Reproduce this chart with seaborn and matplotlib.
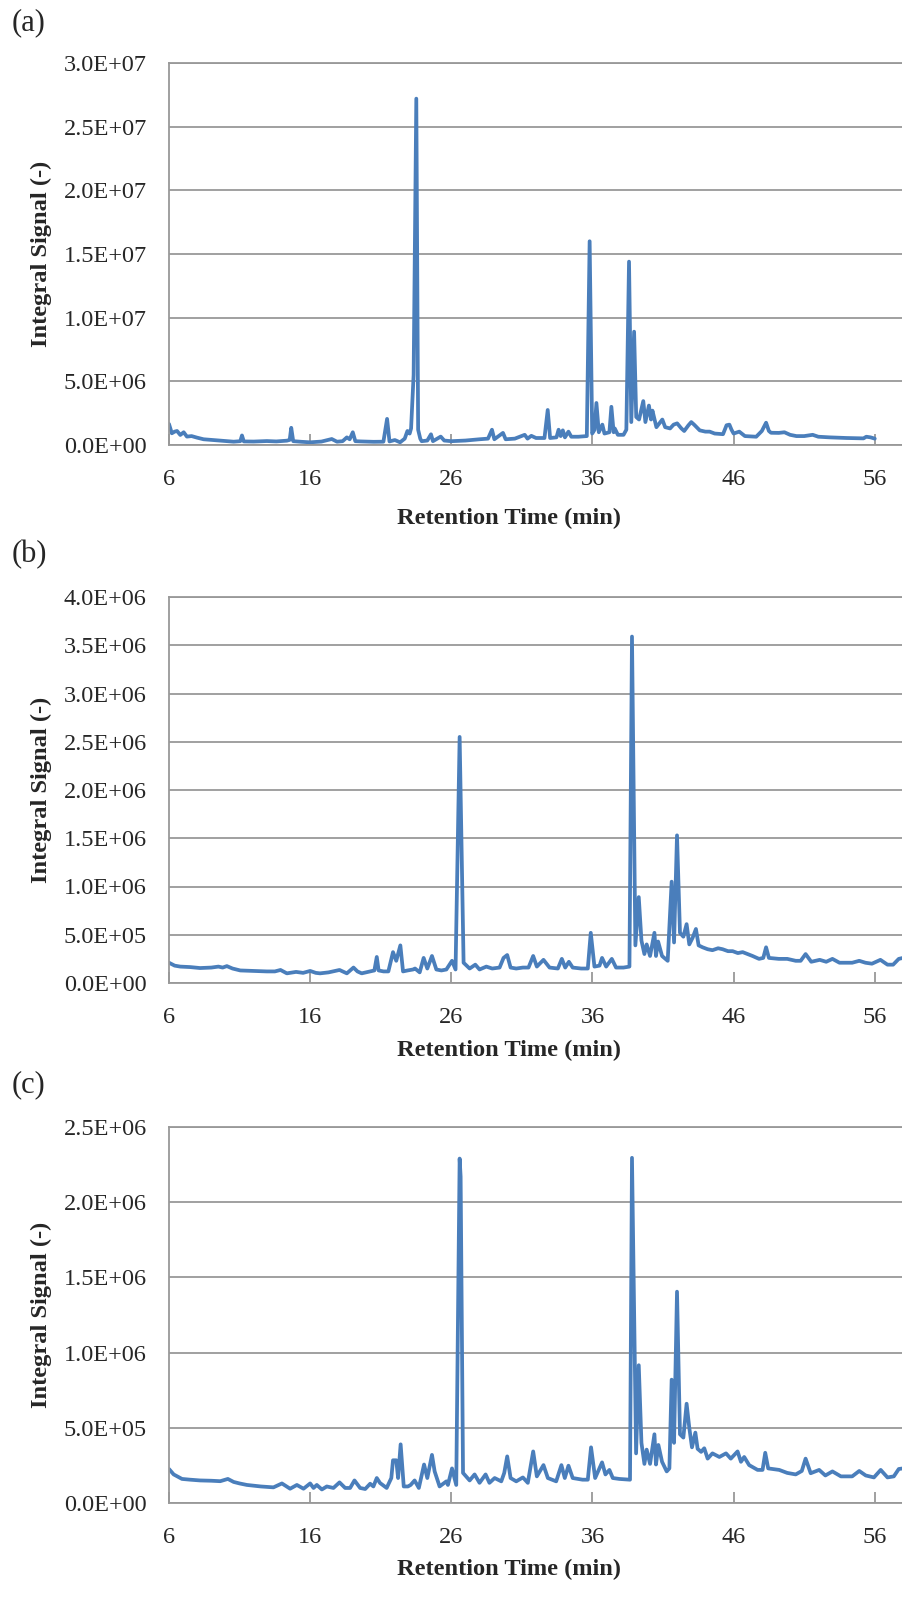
import numpy as np
import pandas as pd
import matplotlib
matplotlib.use("Agg")
import matplotlib.pyplot as plt
from matplotlib.ticker import FuncFormatter
import seaborn as sns

# ---- chromatogram (a): retention time (min) and signal (millions) ----
a_time = [6.0, 6.2, 6.4, 6.57, 6.8, 7.04, 7.27, 7.6, 7.98, 8.45, 9.0, 9.63, 10.1, 10.58,
          11.05, 11.17, 11.3, 12.0, 12.93, 13.6, 14.35, 14.55, 14.66, 14.8, 15.4, 16.0,
          16.8, 17.53, 17.9, 18.3, 18.6, 18.8, 19.02, 19.2, 19.6, 20.5, 21.19, 21.45,
          21.62, 22.0, 22.37, 22.7, 22.89, 23.05, 23.15, 23.33, 23.52, 23.65, 23.8, 23.9,
          24.3, 24.56, 24.7, 25.25, 25.5, 26.0, 27.0, 28.0, 28.6, 28.88, 29.05, 29.66,
          29.85, 30.5, 31.2, 31.4, 31.67, 32.0, 32.6, 32.83, 33.0, 33.45, 33.6, 33.75,
          33.9, 34.05, 34.3, 34.5, 35.0, 35.6, 35.8, 35.98, 36.15, 36.28, 36.45, 36.7,
          36.85, 37.2, 37.34, 37.5, 37.58, 37.8, 38.2, 38.4, 38.59, 38.75, 38.95, 39.1,
          39.3, 39.6, 39.75, 40.0, 40.15, 40.25, 40.53, 40.95, 41.15, 41.5, 41.75, 42.0,
          42.3, 42.5, 42.8, 43.0, 43.2, 43.6, 44.0, 44.3, 44.66, 45.25, 45.5, 45.7,
          45.85, 46.0, 46.4, 46.8, 47.6, 48.0, 48.3, 48.5, 48.65, 49.2, 49.6, 50.0,
          50.45, 51.0, 51.6, 52.0, 52.8, 54.0, 55.2, 55.4, 55.7, 56.0]
a_signal = [1.65, 0.92, 1.05, 1.1, 0.79, 1.0, 0.66, 0.7, 0.58, 0.45, 0.4, 0.34, 0.3, 0.26,
            0.3, 0.75, 0.28, 0.27, 0.31, 0.28, 0.34, 0.4, 1.35, 0.3, 0.25, 0.21,
            0.27, 0.47, 0.26, 0.3, 0.6, 0.45, 1.0, 0.3, 0.28, 0.25, 0.26, 2.05,
            0.28, 0.39, 0.21, 0.5, 1.1, 0.9, 1.3, 5.5, 27.2, 1.2, 0.5, 0.3,
            0.35, 0.84, 0.3, 0.66, 0.35, 0.3, 0.35, 0.45, 0.5, 1.2, 0.45, 0.95,
            0.45, 0.5, 0.8, 0.5, 0.72, 0.55, 0.55, 2.75, 0.55, 0.6, 1.2, 0.7,
            1.15, 0.6, 1.05, 0.65, 0.65, 0.7, 16.0, 0.9, 1.2, 3.3, 1.0, 1.6,
            0.9, 1.0, 3.0, 1.0, 1.3, 0.8, 0.8, 1.2, 14.4, 1.8, 8.9, 2.2,
            2.0, 3.45, 1.8, 3.1, 2.0, 2.7, 1.4, 2.0, 1.4, 1.3, 1.6, 1.7,
            1.3, 1.1, 1.55, 1.8, 1.6, 1.15, 1.05, 1.05, 0.9, 0.85, 1.55, 1.6,
            1.2, 0.9, 1.05, 0.7, 0.65, 1.1, 1.75, 1.1, 0.96, 0.95, 1.0, 0.8,
            0.7, 0.7, 0.8, 0.65, 0.6, 0.55, 0.52, 0.65, 0.6, 0.5]

# ---- chromatogram (b) ----
b_time = [6.0, 6.4, 6.8, 7.5, 8.2, 9.0, 9.5, 9.8, 10.1, 10.5, 11.05, 12.0, 12.93, 13.5,
          13.9, 14.35, 15.0, 15.5, 16.0, 16.4, 16.7, 17.3, 18.08, 18.6, 19.07, 19.35,
          19.65, 20.25, 20.55, 20.72, 20.85, 21.2, 21.54, 21.87, 22.1, 22.39, 22.58,
          22.9, 23.29, 23.43, 23.76, 24.04, 24.3, 24.63, 24.94, 25.3, 25.65, 26.05,
          26.3, 26.59, 26.87, 27.3, 27.7, 28.0, 28.48, 28.9, 29.42, 29.7, 29.96, 30.2,
          30.6, 31.07, 31.47, 31.8, 32.06, 32.53, 32.96, 33.55, 33.83, 34.07, 34.33,
          34.6, 35.2, 35.67, 35.88, 36.14, 36.5, 36.68, 36.97, 37.37, 37.67, 38.2,
          38.62, 38.8, 39.04, 39.28, 39.47, 39.68, 39.84, 40.08, 40.39, 40.5, 40.65,
          40.93, 41.33, 41.61, 41.78, 41.99, 42.2, 42.44, 42.67, 42.86, 43.1, 43.33,
          43.52, 43.8, 44.16, 44.5, 44.9, 45.22, 45.6, 45.93, 46.3, 46.64, 47.0, 47.34,
          47.8, 48.1, 48.3, 48.5, 49.2, 49.8, 50.4, 50.75, 51.1, 51.5, 52.1, 52.56,
          53.0, 53.5, 54.4, 54.9, 55.34, 55.8, 56.4, 56.9, 57.3, 57.7, 58.0]
b_signal = [0.21, 0.18, 0.17, 0.165, 0.155, 0.16, 0.17, 0.16, 0.175, 0.15, 0.13, 0.125,
            0.12, 0.12, 0.135, 0.1, 0.115, 0.105, 0.125, 0.105, 0.1, 0.11, 0.135, 0.1,
            0.16, 0.12, 0.1, 0.12, 0.13, 0.27, 0.13, 0.12, 0.12, 0.32, 0.23, 0.39, 0.12,
            0.13, 0.14, 0.15, 0.11, 0.26, 0.15, 0.28, 0.14, 0.13, 0.14, 0.23,
            0.14, 2.55, 0.21, 0.15, 0.19, 0.14, 0.17, 0.15, 0.16, 0.26, 0.29, 0.16,
            0.15, 0.16, 0.16, 0.28, 0.17, 0.24, 0.16, 0.15, 0.25, 0.16, 0.22,
            0.16, 0.15, 0.15, 0.52, 0.17, 0.18, 0.26, 0.17, 0.25, 0.16, 0.16,
            0.17, 3.59, 0.39, 0.89, 0.44, 0.3, 0.4, 0.28, 0.52, 0.28, 0.43,
            0.28, 0.23, 1.05, 0.42, 1.53, 0.52, 0.48, 0.61, 0.4, 0.47, 0.56,
            0.39, 0.37, 0.35, 0.34, 0.36, 0.35, 0.33, 0.33, 0.31, 0.32, 0.3, 0.28,
            0.25, 0.26, 0.37, 0.26, 0.25, 0.25, 0.23, 0.23, 0.3, 0.22, 0.24, 0.22,
            0.25, 0.21, 0.21, 0.23, 0.21, 0.2, 0.24, 0.19, 0.19, 0.25, 0.26]

# ---- chromatogram (c) ----
c_time = [6.0, 6.33, 6.92, 7.5, 8.2, 9.0, 9.63, 10.17, 10.58, 11.0, 11.52, 12.5, 13.4,
          14.0, 14.58, 15.06, 15.53, 16.0, 16.24, 16.47, 16.83, 17.18, 17.65, 18.08,
          18.48, 18.83, 19.14, 19.54, 19.9, 20.25, 20.48, 20.72, 20.95, 21.42, 21.75,
          21.87, 22.1, 22.23, 22.41, 22.63, 22.93, 23.12, 23.4, 23.7, 24.07, 24.3,
          24.63, 24.82, 25.17, 25.65, 25.76, 26.05, 26.35, 26.59, 26.66, 26.83, 27.3,
          27.65, 28.0, 28.43, 28.7, 29.07, 29.54, 29.75, 29.96, 30.2, 30.6, 31.07,
          31.42, 31.8, 32.06, 32.53, 32.84, 33.43, 33.8, 34.04, 34.3, 34.6, 35.3,
          35.67, 35.9, 36.19, 36.68, 36.92, 37.2, 37.44, 37.9, 38.66, 38.8, 39.09,
          39.28, 39.47, 39.68, 39.84, 40.08, 40.39, 40.5, 40.67, 40.93, 41.26, 41.45,
          41.61, 41.78, 41.99, 42.2, 42.44, 42.67, 42.86, 43.05, 43.29, 43.45, 43.7,
          43.92, 44.16, 44.5, 44.99, 45.46, 45.8, 46.28, 46.52, 46.75, 47.1, 47.7,
          48.05, 48.24, 48.45, 49.23, 49.8, 50.4, 50.83, 51.1, 51.46, 52.06, 52.5,
          53.0, 53.6, 54.4, 54.9, 55.36, 55.94, 56.42, 56.9, 57.35, 57.7, 58.0]
c_signal = [0.226, 0.19, 0.16, 0.155, 0.15, 0.148, 0.145, 0.16, 0.14, 0.13, 0.12, 0.11,
            0.104, 0.13, 0.095, 0.12, 0.095, 0.13, 0.1, 0.12, 0.09, 0.11, 0.1, 0.137,
            0.1, 0.1, 0.15, 0.1, 0.093, 0.128, 0.11, 0.166, 0.133, 0.1, 0.166,
            0.284, 0.284, 0.166, 0.39, 0.11, 0.11, 0.12, 0.15, 0.1, 0.256, 0.166,
            0.32, 0.21, 0.11, 0.144, 0.12, 0.23, 0.12, 2.29, 2.17, 0.2, 0.15,
            0.19, 0.134, 0.19, 0.134, 0.166, 0.144, 0.2, 0.31, 0.166, 0.144, 0.17,
            0.134, 0.343, 0.177, 0.252, 0.166, 0.144, 0.252, 0.166, 0.248, 0.166, 0.155,
            0.155, 0.37, 0.166, 0.27, 0.19, 0.22, 0.166, 0.16, 0.155, 2.295, 0.33,
            0.916, 0.4, 0.26, 0.355, 0.26, 0.457, 0.256, 0.386, 0.274, 0.21, 0.23,
            0.82, 0.4, 1.405, 0.457, 0.435, 0.66, 0.5, 0.37, 0.468, 0.36, 0.34,
            0.364, 0.295, 0.33, 0.306, 0.33, 0.295, 0.343, 0.274, 0.306, 0.252, 0.22,
            0.22, 0.334, 0.23, 0.22, 0.2, 0.19, 0.213, 0.295, 0.198, 0.22, 0.183,
            0.21, 0.177, 0.177, 0.213, 0.183, 0.17, 0.22, 0.17, 0.177, 0.226, 0.23]

panel_labels = ["(a)", "(b)", "(c)"]
y_max = [3.0e7, 4.0e6, 2.5e6]
y_step = [5.0e6, 5.0e5, 5.0e5]
x_ticks = [6, 16, 26, 36, 46, 56]

LINE = "#4a7ebb"
GRID = "#999999"

sns.set_theme(style="white")
plt.rcParams["font.family"] = ["Liberation Serif", "DejaVu Serif"]

W, H = 903, 1597
fig = plt.figure(figsize=(W / 100, H / 100), dpi=100)

# axes frames in pixels: top, bottom, panel-letter y, x-label offset below the axis
frames = [(63, 445, 23, 73), (597, 983, 555, 67), (1127, 1503, 1085, 66)]
left_px, right_px = 169, 903

series = [(a_time, a_signal), (b_time, b_signal), (c_time, c_signal)]

for (times, sig), lab, ymax, ystep, (top, bot, ly, xl_off) in zip(series, panel_labels,
                                                                 y_max, y_step, frames):
    ax = fig.add_axes([left_px / W, 1 - bot / H, (right_px - left_px) / W, (bot - top) / H])
    df = pd.DataFrame({"time": times, "signal": np.asarray(sig) * 1e6})
    sns.lineplot(data=df, x="time", y="signal", ax=ax, color=LINE, linewidth=2.7,
                 estimator=None, solid_joinstyle="round", solid_capstyle="round")
    ax.set_xlim(6, 58)
    ax.set_ylim(0, ymax)
    ax.set_xticks(x_ticks)
    ax.set_yticks(np.arange(0, ymax + ystep / 2, ystep))
    ax.yaxis.set_major_formatter(FuncFormatter(lambda v, p: f"{v:.1E}"))
    ax.grid(axis="y", color=GRID, linewidth=1.3)
    ax.grid(axis="x", visible=False)
    ax.set_axisbelow(True)
    for side in ("left", "bottom", "top"):
        ax.spines[side].set_color(GRID)
        ax.spines[side].set_linewidth(1.3)
    ax.spines["right"].set_visible(False)
    ax.tick_params(axis="x", direction="in", length=8, width=1.3, color=GRID,
                   pad=17, labelsize=17.5, bottom=True)
    ax.tick_params(axis="y", length=0, pad=16, labelsize=17.5)
    ax.set_xlabel("Retention Time (min)", fontsize=17.6, fontweight="bold")
    ax.set_ylabel("Integral Signal (-)", fontsize=17.6, fontweight="bold")
    h = bot - top
    ax.xaxis.set_label_coords((509.5 - left_px) / (right_px - left_px), -xl_off / h)
    ax.xaxis.label.set_va("center")
    ax.yaxis.set_label_coords((41 - left_px) / (right_px - left_px), 0.5)
    ax.yaxis.label.set_va("center")
    fig.text(12 / W, 1 - ly / H, lab, fontsize=22, va="center", ha="left")

fig.savefig("out.png", dpi=100)
